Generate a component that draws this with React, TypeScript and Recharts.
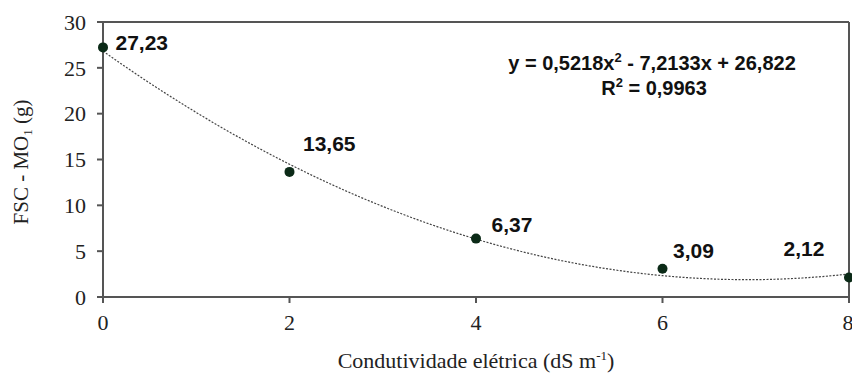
import { ComposedChart, Line, Scatter, XAxis, YAxis, ReferenceLine, LabelList, Customized } from 'recharts';

// conductivity levels (dS m-1) and measured FSC - MO1 (g)
const conductivity = [0, 2, 4, 6, 8];
const fscValues = [27.23, 13.65, 6.37, 3.09, 2.12];

// quadratic trendline coefficients: c0 + c1*x + c2*x^2
const trendCoefficients = [26.822, -7.2133, 0.5218];
const rSquared = '0,9963';

const xTicks = [0, 2, 4, 6, 8];
const yTicks = [0, 5, 10, 15, 20, 25, 30];

const points = conductivity.map((x, i) => ({ x, y: fscValues[i] }));

const trendStep = 0.25;
const trend = Array.from({ length: Math.round(8 / trendStep) + 1 }, (_, i) => {
  const x = i * trendStep;
  const [c0, c1, c2] = trendCoefficients;
  return { x, trend: c0 + c1 * x + c2 * x * x };
});

// label placement relative to each point
const labelOffsets: [number, number][] = [
  [17, 0],
  [18, -24],
  [20, -10],
  [15, -14],
  [-61, -25],
];

const serif = '"Liberation Serif", "Times New Roman", serif';
const sans = '"Liberation Sans", Arial, sans-serif';
const axisColor = '#555';

const fmt = (v: number) => v.toFixed(2).replace('.', ',');

const PointLabel = (props: any) => {
  const { x, y, index, value } = props;
  const [dx, dy] = labelOffsets[index] || [15, 0];
  return (
    <text
      x={x + dx}
      y={y + dy}
      dominantBaseline="central"
      style={{ fontFamily: sans, fontWeight: 'bold', fontSize: 21 }}
      fill="#111"
    >
      {fmt(value)}
    </text>
  );
};

const AxisTick = (props: any) => {
  const { x, y, payload, textAnchor, vertical } = props;
  return (
    <text
      x={x}
      y={y}
      dy={vertical ? '0.35em' : '0.75em'}
      textAnchor={textAnchor}
      style={{ fontFamily: serif, fontSize: 22 }}
      fill="#222"
    >
      {payload.value}
    </text>
  );
};

const Equation = () => {
  const [c0, c1, c2] = trendCoefficients;
  const n = (v: number, d: number) => Math.abs(v).toFixed(d).replace('.', ',');
  return (
    <g style={{ fontFamily: sans, fontWeight: 'bold', fontSize: 20 }} fill="#111" textAnchor="middle">
      <text x={652} y={70}>
        y = {n(c2, 4)}x
        <tspan fontSize={13} dy={-8}>2</tspan>
        <tspan dy={8}> - {n(c1, 4)}x + {n(c0, 3)}</tspan>
      </text>
      <text x={654} y={95}>
        R<tspan fontSize={13} dy={-8}>2</tspan>
        <tspan dy={8}> = {rSquared}</tspan>
      </text>
    </g>
  );
};

const YTitle = () => (
  <text
    transform="translate(28,162) rotate(-90)"
    textAnchor="middle"
    style={{ fontFamily: serif, fontSize: 21 }}
    fill="#222"
  >
    FSC - MO<tspan fontSize={13} dy={4}>1</tspan>
    <tspan dy={-4}> (g)</tspan>
  </text>
);

const XTitle = () => (
  <text x={476} y={368} textAnchor="middle" style={{ fontFamily: serif, fontSize: 22 }} fill="#222">
    Condutividade elétrica (dS m<tspan fontSize={13} dy={-8}>-1</tspan>
    <tspan dy={8}>)</tspan>
  </text>
);

export default function App() {
  return (
    <div style={{ position: 'absolute', left: 0, top: 0, background: '#fff', fontFamily: serif }}>
      <ComposedChart
        width={852}
        height={378}
        margin={{ top: 22, right: 3, bottom: 0, left: 0 }}
      >
        <XAxis
          type="number"
          dataKey="x"
          domain={[0, 8]}
          ticks={xTicks}
          allowDuplicatedCategory={false}
          height={81}
          tickSize={6}
          tickMargin={10}
          stroke={axisColor}
          strokeWidth={2}
          tick={<AxisTick />}
        />
        <YAxis
          type="number"
          domain={[0, 30]}
          ticks={yTicks}
          width={103}
          tickSize={6}
          tickMargin={11}
          stroke={axisColor}
          strokeWidth={2}
          tick={<AxisTick vertical />}
        />
        <ReferenceLine y={30} stroke={axisColor} strokeWidth={2} />
        <ReferenceLine x={8} stroke={axisColor} strokeWidth={2} />
        <Line
          data={trend}
          dataKey="trend"
          type="monotone"
          stroke="#444"
          strokeWidth={1.2}
          strokeDasharray="2 1.5"
          dot={false}
          activeDot={false}
          isAnimationActive={false}
        />
        <Scatter
          data={points}
          dataKey="y"
          fill="#0b2a17"
          shape={(p: any) => <circle cx={p.cx} cy={p.cy} r={5} fill="#0b2a17" />}
          isAnimationActive={false}
        >
          <LabelList dataKey="y" content={PointLabel} />
        </Scatter>
        <Customized component={Equation} />
        <Customized component={YTitle} />
        <Customized component={XTitle} />
      </ComposedChart>
    </div>
  );
}
